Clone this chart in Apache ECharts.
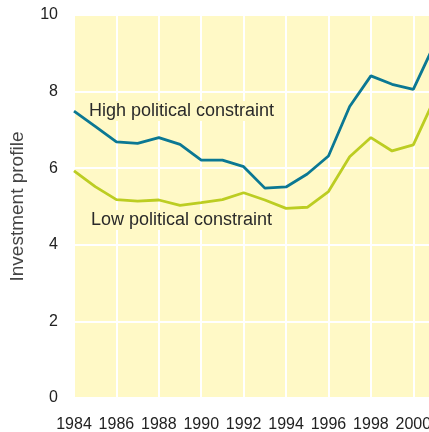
<!DOCTYPE html>
<html><head><meta charset="utf-8">
<script src="https://cdn.jsdelivr.net/npm/echarts@6/dist/echarts.min.js"></script>
<style>html,body{margin:0;padding:0;background:#fff;}#c{width:429px;height:432px;}</style>
</head><body><div id="c"></div>
<script>
var years = ['1984','1985','1986','1987','1988','1989','1990','1991','1992','1993','1994','1995','1996','1997','1998','1999','2000','2001'];
var highConstraint = [7.49,7.09,6.69,6.65,6.80,6.62,6.21,6.21,6.04,5.48,5.51,5.85,6.32,7.61,8.41,8.19,8.06,9.24];
var lowConstraint = [5.93,5.52,5.18,5.14,5.17,5.03,5.10,5.18,5.36,5.17,4.95,4.98,5.39,6.30,6.80,6.45,6.61,7.81];
var yTicks = [0,2,4,6,8,10];
var seriesNames = ['High political constraint','Low political constraint'];

var FONT = '"Liberation Sans", Arial, sans-serif';
var BG = '#fff9c6';
var chart = echarts.init(document.getElementById('c'), null, {renderer:'canvas'});
chart.setOption({
  backgroundColor: '#ffffff',
  animation: false,
  grid: {left: 74, right: -5.5, top: 15, bottom: 34, show: true, backgroundColor: BG, borderWidth: 0,
         containLabel: false, outerBoundsMode: 'none'},
  xAxis: {
    type: 'category', data: years, boundaryGap: false,
    axisLine: {show: false}, axisTick: {show: false},
    axisLabel: {interval: 1, color: '#222', fontFamily: FONT, fontSize: 16, margin: 19, hideOverlap: false},
    splitLine: {show: true, interval: 1, lineStyle: {color: '#ffffff', width: 2}}
  },
  yAxis: {
    type: 'value', min: yTicks[0], max: yTicks[yTicks.length-1], interval: 2,
    name: 'Investment profile', nameLocation: 'middle', nameGap: 47, nameRotate: 90,
    nameTextStyle: {color: '#444', fontFamily: FONT, fontSize: 19},
    axisLine: {show: false}, axisTick: {show: false},
    axisLabel: {color: '#222', fontFamily: FONT, fontSize: 16, margin: 16},
    splitLine: {show: true, lineStyle: {color: '#ffffff', width: 2}}
  },
  series: [
    {name: seriesNames[0], type: 'line', data: highConstraint, symbol: 'none', z: 3,
     lineStyle: {color: '#0b7893', width: 2.8}},
    {name: seriesNames[1], type: 'line', data: lowConstraint, symbol: 'none', z: 3,
     lineStyle: {color: '#bccd22', width: 2.8}}
  ],
  graphic: [
    {type: 'text', left: 88, top: 101, z: 2, style: {text: seriesNames[0], fill: '#2a2a2a', font: '18px ' + FONT,
      backgroundColor: BG, padding: [1, 1, 1, 1]}},
    {type: 'text', left: 90, top: 210, z: 2, style: {text: seriesNames[1], fill: '#2a2a2a', font: '18px ' + FONT,
      backgroundColor: BG, padding: [1, 1, 1, 1]}}
  ]
});
</script></body></html>
